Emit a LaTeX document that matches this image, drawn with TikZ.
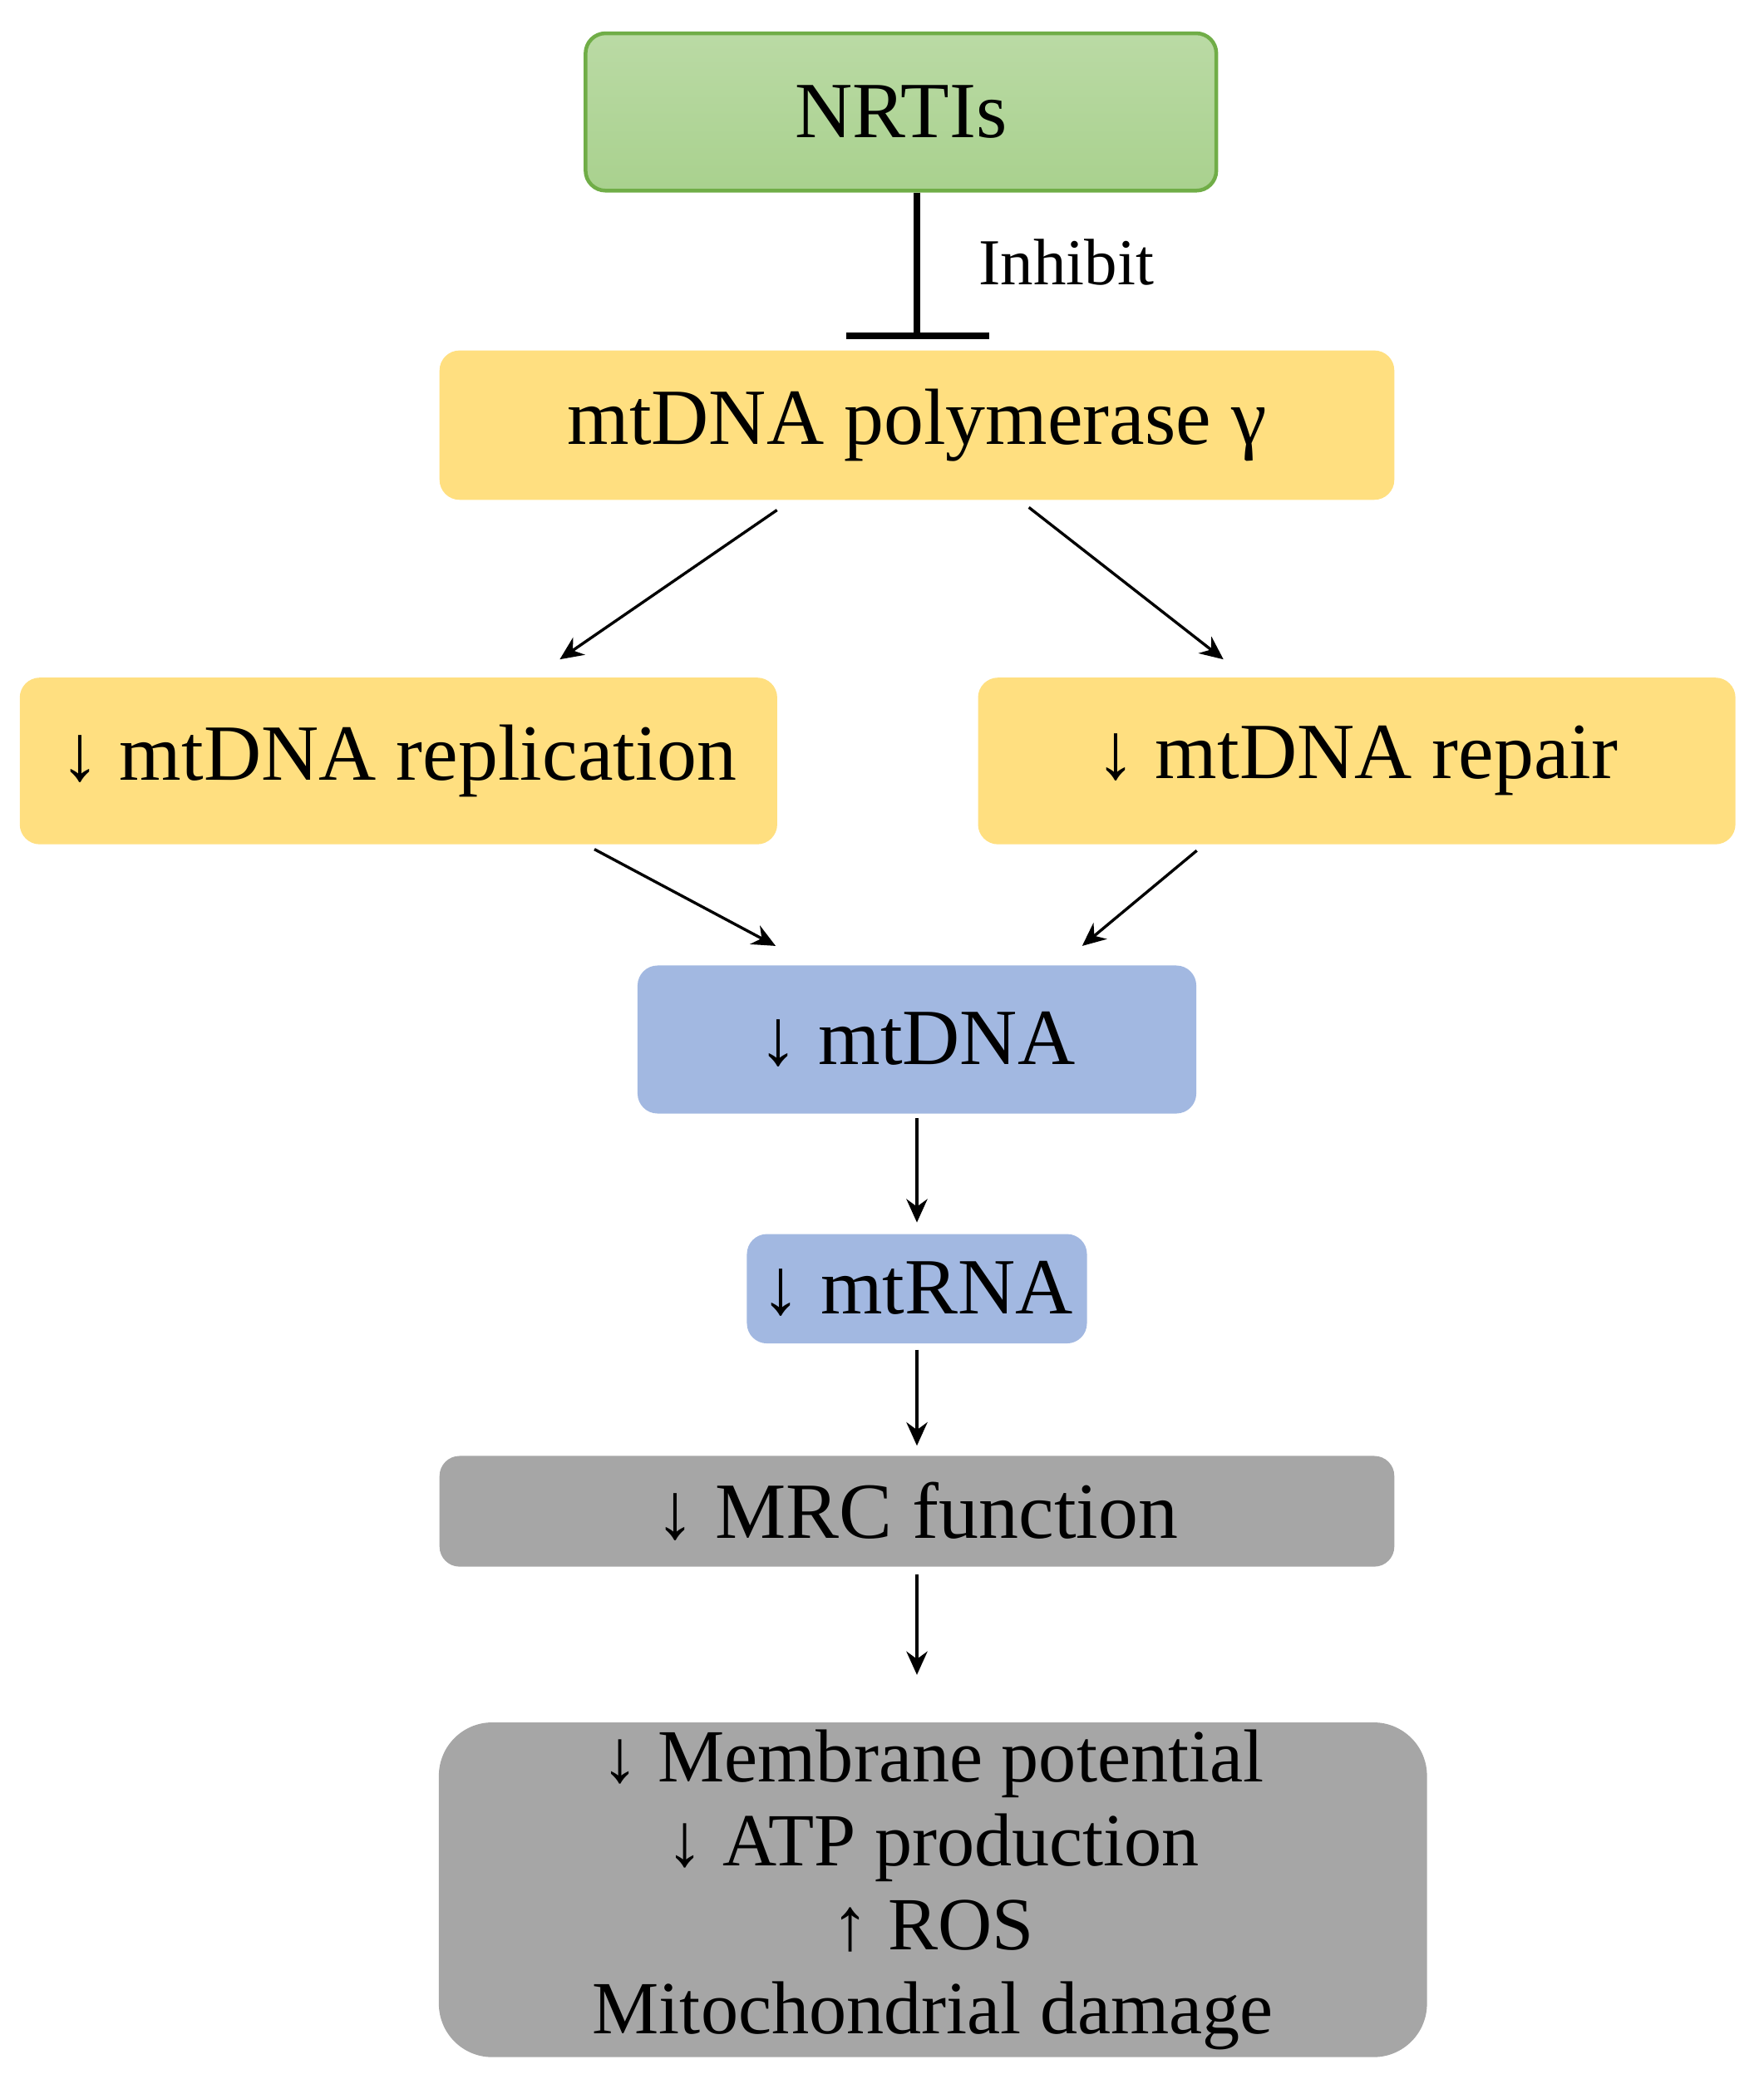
\documentclass[tikz,border=0pt]{standalone}
\usepackage{fontspec}
\setmainfont{Liberation Serif}
\usetikzlibrary{arrows.meta,calc}
\definecolor{gfill}{HTML}{A9D18E}
\definecolor{gdraw}{HTML}{70AD47}
\definecolor{yfill}{HTML}{FFDF80}
\definecolor{bfill}{HTML}{A2B8E1}
\definecolor{kfill}{HTML}{A6A6A6}
\begin{document}
\begin{tikzpicture}[x=0.01cm,y=-0.01cm,
  box/.style={rectangle,rounded corners=0.15cm,inner sep=0pt,font=\fontsize{17}{20}\selectfont},
  arr/.style={-{Stealth[length=5pt,width=4.5pt]},line width=0.6pt}]
\useasboundingbox (0,0) rectangle (1323,1560);
\node[box,fill=gfill,draw=gdraw,line width=0.8pt,top color=gfill!80!white,bottom color=gfill,minimum width=4.73cm,minimum height=1.18cm] (nrti) at (676,84) {NRTIs};
\node[box,fill=yfill,minimum width=7.16cm,minimum height=1.12cm] (poly) at (688,319) {mtDNA polymerase γ};
\node[box,fill=yfill,minimum width=5.68cm,minimum height=1.25cm] (rep) at (299,571) {↓ mtDNA replication};
\node[box,fill=yfill,minimum width=5.68cm,minimum height=1.25cm] (repair) at (1018,571) {↓ mtDNA repair};
\node[box,fill=bfill,minimum width=4.19cm,minimum height=1.11cm] (dna) at (688,780) {↓ mtDNA};
\node[box,fill=bfill,minimum width=2.55cm,minimum height=0.82cm] (rna) at (688,967) {↓ mtRNA};
\node[box,fill=kfill,minimum width=7.16cm,minimum height=0.83cm] (mrc) at (688,1134) {↓ MRC function};
\node[box,fill=kfill,rounded corners=0.4cm,minimum width=7.41cm,minimum height=2.51cm,align=center,font=\fontsize{16}{17.9}\selectfont] (dam) at (700,1418) {↓ Membrane potential\\↓ ATP production\\↑ ROS\\Mitochondrial damage};
\coordinate (bar) at (688,252);
\draw[line width=1.3pt] (nrti.south -| bar) -- (bar);
\draw[line width=1.3pt] ($(bar)+(-53,0)$) -- ($(bar)+(54,0)$);
\node[font=\fontsize{14}{16}\selectfont,anchor=west] (inh) at (722,197) {Inhibit};
\draw[arr] ($(poly.south)+(-105,7)$) -- ($(rep.north)+(121,-13)$);
\draw[arr] ($(poly.south)+(84,5)$) -- ($(repair.north)+(-100,-13)$);
\draw[arr] ($(rep.south)+(147,3)$) -- ($(dna.north)+(-106,-14)$);
\draw[arr] ($(repair.south)+(-120,4)$) -- ($(dna.north)+(124,-14)$);
\draw[arr] ($(dna.south)+(0,3)$) -- ($(rna.north)+(0,-8)$);
\draw[arr] ($(rna.south)+(0,4)$) -- ($(mrc.north)+(0,-7)$);
\draw[arr] ($(mrc.south)+(0,5)$) -- ($(dam.north)+(-12,-35)$);
\end{tikzpicture}
\end{document}
